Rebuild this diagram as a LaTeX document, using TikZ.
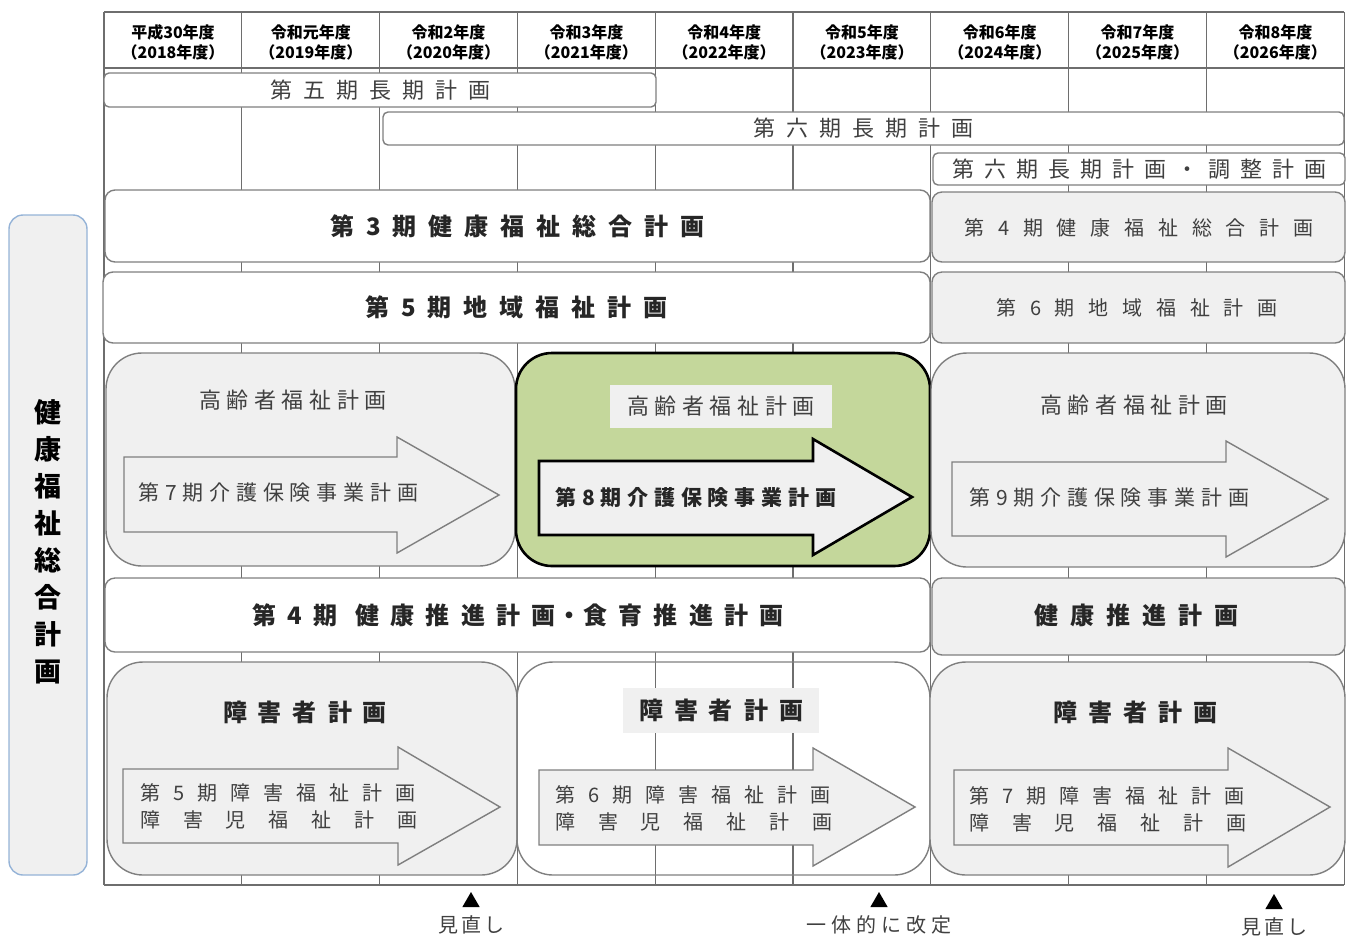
\documentclass[tikz,border=0pt]{standalone}
\usepackage{fontspec}
\setmainfont{Noto Sans CJK JP}
\usepackage{tikz}
\usetikzlibrary{positioning,fit,shapes.geometric}
\definecolor{plink}  {HTML}{262626}
\definecolor{pltext} {HTML}{404040}
\definecolor{plline} {HTML}{7F7F7F}
\definecolor{plgrid} {HTML}{6E6E6E}
\definecolor{plshade}{HTML}{F0F0F0}
\definecolor{plgreen}{HTML}{C4D79B}
\definecolor{plblue} {HTML}{95B3D7}
\makeatletter
\newcommand\spaced[2]{\def\sp@gap{}\@tfor\sp@ch:=#2\do{\sp@gap\sp@ch\def\sp@gap{\hspace{#1}}}}
\makeatother
\tikzset{
  plgridline/.style={draw=plgrid, line width=0.6pt},
  plbar/.style={draw=plline, line width=0.7pt, fill=white, rounded corners=2.5pt, inner sep=0pt},
  plband/.style={draw=plline, line width=0.7pt, fill=white, rounded corners=5pt, inner sep=0pt},
  plshadeband/.style={plband, fill=plshade},
  plpanel/.style={draw=plline, line width=0.7pt, fill=plshade, rounded corners=18pt, inner sep=0pt},
  plopenpanel/.style={plpanel, fill=none},
  plgreenpanel/.style={plpanel, draw=black, line width=1.3pt, fill=plgreen},
  plsidebox/.style={draw=plblue, line width=0.7pt, fill=plshade, rounded corners=7pt, inner sep=0pt},
  plbackdrop/.style={fill=plshade, inner sep=0pt},
  plarrow/.style={draw=plline, line width=0.7pt, fill=plshade},
  plgreenarrow/.style={plarrow, draw=black, line width=1.3pt},
  plyear/.style={font=\fontsize{8}{10}\selectfont\bfseries, align=center, text=black, inner sep=0pt},
  plplain/.style={font=\fontsize{11}{13}\selectfont, text=pltext, inner sep=0pt},
  plsmall/.style={font=\fontsize{10}{13.5}\selectfont, text=pltext, inner sep=0pt},
  plbold/.style={font=\fontsize{12}{14}\selectfont\bfseries, text=plink, inner sep=0pt},
  plcare/.style={font=\fontsize{10.5}{12}\selectfont, text=pltext, inner sep=0pt, anchor=west},
  plside/.style={font=\fontsize{13.5}{18.5}\selectfont\bfseries, text=black, align=center, inner sep=0pt},
  plmark/.style={regular polygon, regular polygon sides=3, fill=black, inner sep=0pt, minimum size=10pt},
  plnote/.style={font=\fontsize{10}{12}\selectfont, text=pltext, inner sep=0pt},
}
\begin{document}
\begin{tikzpicture}[x=0.5pt,y=-0.5pt]
  \useasboundingbox (0,0) rectangle (1352,938);
  % year grid
  \foreach \c in {0,...,9}
    \draw[plgridline] ({104+137.8*\c},12) -- ({104+137.8*\c},885);
  \foreach \r in {12,68,885}
    \draw[plgridline] (104,\r) -- (1344,\r);
  \foreach \era/\ad [count=\i from 0] in {平成30年度/2018,令和元年度/2019,令和2年度/2020,
      令和3年度/2021,令和4年度/2022,令和5年度/2023,令和6年度/2024,令和7年度/2025,令和8年度/2026}
    \node[plyear] (year\i) at ({173+137.8*\i},42) {\era\\（\ad 年度）};

  % long-term plans
  \node[plbar, fit={(104,73)(656,107)}] (long5) {};
  \node[plplain] (long5t) at (long5) {\spaced{5.5pt}{第五期長期計画}};
  \node[plbar, fit={(383,112)(1344,145)}] (long6) {};
  \node[plplain] (long6t) at (long6) {\spaced{5.5pt}{第六期長期計画}};
  \node[plbar, fit={(933,153)(1345,185)}] (long6adj) {};
  \node[plplain] (long6adjt) at (long6adj) {\spaced{5pt}{第六期長期計画・調整計画}};

  % health and welfare, community welfare
  \node[plband, fit={(105,190)(930,262)}] (welfare3) {};
  \node[plbold] (welfare3t) at (welfare3) {\spaced{6pt}{第3期健康福祉総合計画}};
  \node[plshadeband, fit={(932,192)(1345,262)}] (welfare4) {};
  \node[plsmall] (welfare4t) at (1139,228) {\spaced{6.9pt}{第4期健康福祉総合計画}};
  \node[plband, fit={(103,272)(930,343)}] (local5) {};
  \node[plbold] (local5t) at (local5) {\spaced{6pt}{第5期地域福祉計画}};
  \node[plshadeband, fit={(932,272)(1345,343)}] (local6) {};
  \node[plsmall] (local6t) at (1137,308) {\spaced{6.9pt}{第6期地域福祉計画}};

  % elderly welfare
  \node[plpanel, fit={(106,353)(515,566)}] (elder1) {};
  \node[plgreenpanel, fit={(516,353)(930,566)}] (elder2) {};
  \node[plpanel, fit={(931,353)(1345,567)}] (elder3) {};
  \node[plplain] (elder1t) at (293,400) {\spaced{2.8pt}{高齢者福祉計画}};
  \node[plbackdrop, fit={(610,385)(832,428)}] (elder2bg) {};
  \node[plplain] (elder2t) at (elder2bg) {\spaced{2.8pt}{高齢者福祉計画}};
  \node[plplain] (elder3t) at (1134,405) {\spaced{2.8pt}{高齢者福祉計画}};
  \draw[plarrow] (124,457) -- (397,457) -- (397,437) -- (499,495) -- (397,553) -- (397,532) -- (124,532) -- cycle;
  \draw[plgreenarrow] (539,461) -- (813,461) -- (813,439) -- (912,497) -- (813,555) -- (813,535) -- (539,535) -- cycle;
  \draw[plarrow] (952,462) -- (1226,462) -- (1226,441) -- (1328,499) -- (1226,557) -- (1226,536) -- (952,536) -- cycle;
  \node[plcare] (care7) at (138,493) {\spaced{2.9pt}{第7期介護保険事業計画}};
  \node[plcare, font=\fontsize{10.5}{12}\selectfont\bfseries, text=plink] (care8) at (555,497) {\spaced{2.9pt}{第8期介護保険事業計画}};
  \node[plcare] (care9) at (969,498) {\spaced{2.9pt}{第9期介護保険事業計画}};

  % health promotion
  \node[plband, fit={(105,578)(930,652)}] (health4) {};
  \node[plbold] (health4t) at (518,615)
    {\spaced{5.6pt}{第4期}\hspace{9pt}\spaced{5.6pt}{健康推進計画}\hspace{1pt}・\hspace{1pt}\spaced{5.6pt}{食育推進計画}};
  \node[plshadeband, fit={(932,578)(1345,655)}] (health5) {};
  \node[plbold] (health5t) at (1136,615) {\spaced{6pt}{健康推進計画}};

  % disability
  \node[plpanel, fit={(107,662)(517,875)}] (disab1) {};
  \node[plopenpanel, fit={(517,662)(930,875)}] (disab2) {};
  \node[plpanel, fit={(930,662)(1345,875)}] (disab3) {};
  \node[plbold] (disab1t) at (305,712) {\spaced{5.5pt}{障害者計画}};
  \node[plbackdrop, fit={(623,688)(819,733)}] (disab2bg) {};
  \node[plbold] (disab2t) at (disab2bg) {\spaced{5.5pt}{障害者計画}};
  \node[plbold] (disab3t) at (1135,712) {\spaced{5.5pt}{障害者計画}};
  \draw[plarrow] (123,769) -- (398,769) -- (398,747) -- (500,807) -- (398,865) -- (398,843) -- (123,843) -- cycle;
  \draw[plarrow] (539,770) -- (813,770) -- (813,748) -- (915,807) -- (813,866) -- (813,845) -- (539,845) -- cycle;
  \draw[plarrow] (954,770) -- (1228,770) -- (1228,748) -- (1330,807) -- (1228,867) -- (1228,845) -- (954,845) -- cycle;
  \node[plsmall, align=left, anchor=west] (dwel5) at (140,806)
    {\spaced{6.5pt}{第5期障害福祉計画}\\\spaced{11.4pt}{障害児福祉計画}};
  \node[plsmall, align=left, anchor=west] (dwel6) at (555,808)
    {\spaced{6.5pt}{第6期障害福祉計画}\\\spaced{11.4pt}{障害児福祉計画}};
  \node[plsmall, align=left, anchor=west] (dwel7) at (969,809)
    {\spaced{6.5pt}{第7期障害福祉計画}\\\spaced{11.4pt}{障害児福祉計画}};

  % side title
  \node[plsidebox, fit={(9,215)(87,875)}] (side) {};
  \node[plside] (sidet) at (48,542) {健\\康\\福\\祉\\総\\合\\計\\画};

  % review marks
  \node[plmark] (mark1) at (471,902) {};
  \node[plnote, below=4pt of mark1] (note1) {\spaced{1.5pt}{見直し}};
  \node[plmark] (mark2) at (879,902) {};
  \node[plnote, below=4pt of mark2] (note2) {\spaced{2.5pt}{一体的に改定}};
  \node[plmark] (mark3) at (1274,904) {};
  \node[plnote, below=4pt of mark3] (note3) {\spaced{1.5pt}{見直し}};
\end{tikzpicture}
\end{document}
